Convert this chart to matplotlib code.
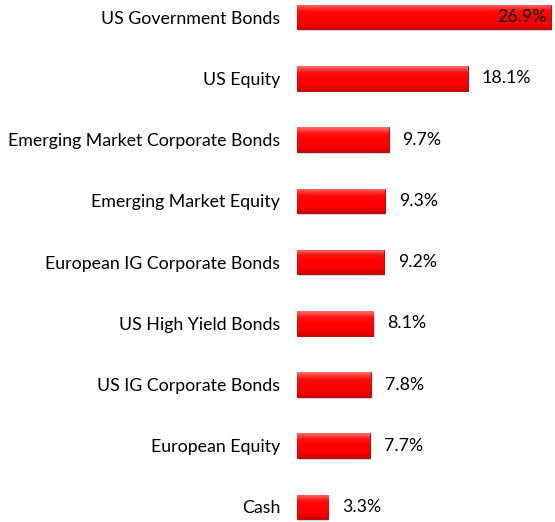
import numpy as np
import matplotlib.pyplot as plt
from matplotlib.colors import LinearSegmentedColormap

# asset allocation shares (%)
categories = ['US Government Bonds', 'US Equity', 'Emerging Market Corporate Bonds',
              'Emerging Market Equity', 'European IG Corporate Bonds', 'US High Yield Bonds',
              'US IG Corporate Bonds', 'European Equity', 'Cash']
values = [26.9, 18.1, 9.7, 9.3, 9.2, 8.1, 7.8, 7.7, 3.3]
labels = ['26.9%', '18.1%', '9.7%', '9.3%', '9.2%', '8.1%', '7.8%', '7.7%', '3.3%']

plt.rcParams['font.family'] = ['Lato', 'DejaVu Sans']
FS = 12.8

fig = plt.figure(figsize=(5.55, 5.22), dpi=100)
ax = fig.add_axes([297 / 555, 0, 258 / 555, 1])

y = np.arange(len(categories))
h = 0.4
bars = ax.barh(y, values, height=h, color='#ff0000', edgecolor='#b00000', linewidth=0.6, zorder=3)

# fake bevel: vertical gradient clipped to each bar
cmap = LinearSegmentedColormap.from_list('bevel', ['#ff7070', '#ff1010', '#ff0000', '#ff0000', '#d00000'])
grad = np.linspace(0, 1, 64).reshape(-1, 1)
for b, v, yi in zip(bars, values, y):
    # drop shadow
    ax.barh(yi + 0.03, v, height=h, left=0.12, color='#000000', alpha=0.18, linewidth=0, zorder=2)
    im = ax.imshow(grad, cmap=cmap, aspect='auto', extent=(0, v, yi + h / 2, yi - h / 2),
                   zorder=4, interpolation='bilinear')
    im.set_clip_path(b)

for yi, v, lab in zip(y, values, labels):
    if v > 25:
        ax.annotate(lab, (v, yi), xytext=(-3, 0), textcoords='offset points',
                    ha='right', va='center', fontsize=FS, color='black', zorder=5)
    else:
        ax.annotate(lab, (v, yi), xytext=(10, 0), textcoords='offset points',
                    ha='left', va='center', fontsize=FS, color='black', zorder=5)

ax.set_yticks(y)
ax.set_yticklabels(categories, fontsize=FS)
ax.tick_params(axis='y', length=0, pad=12)
ax.set_xticks([])
ax.set_xlim(0, 27.33)
ax.set_ylim(8.245, -0.278)
for s in ax.spines.values():
    s.set_visible(False)

plt.savefig('out.png', dpi=100)
